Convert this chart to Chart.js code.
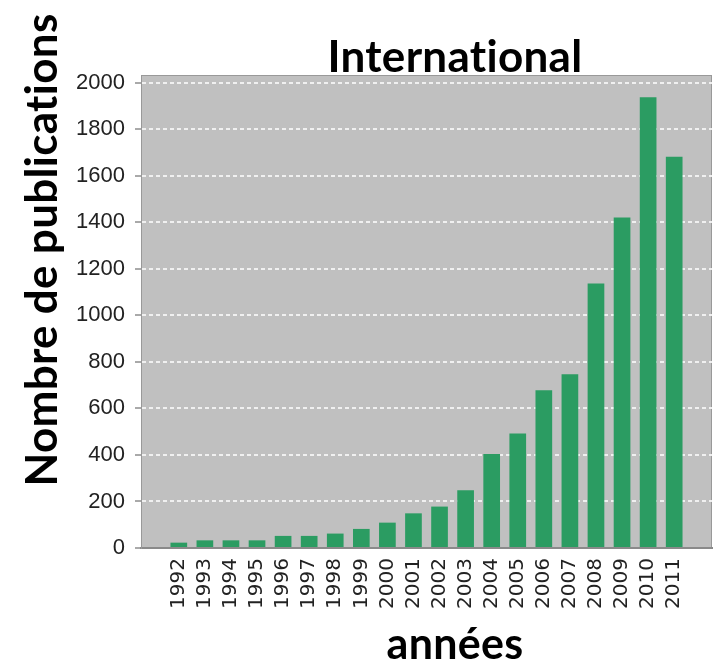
<!DOCTYPE html>
<html lang="fr">
<head>
<meta charset="utf-8">
<title>International - Nombre de publications</title>
<script src="https://cdn.jsdelivr.net/npm/chart.js@4.4.1/dist/chart.umd.min.js"></script>
<style>
    html, body { margin: 0; padding: 0; background: #ffffff; }
    canvas { display: block; }
</style>
</head>
<body>
<canvas id="pubChart" width="714" height="664"></canvas>
<script>
// Publication counts per year
const years = [1992, 1993, 1994, 1995, 1996, 1997, 1998, 1999, 2000, 2001,
               2002, 2003, 2004, 2005, 2006, 2007, 2008, 2009, 2010, 2011];
const publications = [23, 33, 33, 33, 52, 52, 62, 82, 109, 149,
                      178, 248, 404, 492, 678, 747, 1137, 1421, 1937, 1682];
const yTicks = [0, 200, 400, 600, 800, 1000, 1200, 1400, 1600, 1800, 2000];

const chartTitle = 'International';
const xTitle = 'années';
const yTitle = 'Nombre de publications';

// Grey plot background with a thin frame
const plotBackground = {
    id: 'plotBackground',
    beforeDraw(chart) {
        const { ctx, chartArea: a } = chart;
        ctx.save();
        ctx.fillStyle = '#ffffff';
        ctx.fillRect(0, 0, chart.width, chart.height);
        ctx.fillStyle = '#c0c0c0';
        ctx.fillRect(a.left, a.top, a.right - a.left, a.bottom - a.top);
        ctx.strokeStyle = '#999999';
        ctx.lineWidth = 1;
        ctx.strokeRect(a.left + 0.5, a.top + 0.5, a.right - a.left - 1, a.bottom - a.top - 1);
        ctx.restore();
    }
};

// Big bold titles (top, bottom and left)
const titles = {
    id: 'titles',
    afterDraw(chart) {
        const ctx = chart.ctx;
        ctx.save();
        ctx.fillStyle = '#000000';
        ctx.textAlign = 'center';
        ctx.textBaseline = 'alphabetic';
        // a tiny spacing keeps the "ti" pairs from turning into ligatures
        ctx.letterSpacing = '0.3px';

        ctx.font = 'bold 44px Lato';
        ctx.fillText(chartTitle, 455, 72);

        ctx.font = 'bold 43px Lato';
        ctx.fillText(xTitle, 455, 659);

        ctx.translate(57, 250);
        ctx.rotate(-Math.PI / 2);
        ctx.font = 'bold 44px Lato';
        ctx.fillText(yTitle, 0, 0);
        ctx.restore();
    }
};

const ctx = document.getElementById('pubChart').getContext('2d');
const pubChart = new Chart(ctx, {
    type: 'bar',
    data: {
        datasets: [{
            label: 'Publications',
            data: years.map((y, i) => ({ x: y, y: publications[i] })),
            backgroundColor: '#2b9c62',
            borderWidth: 0,
            barPercentage: 0.64,
            categoryPercentage: 1
        }]
    },
    options: {
        responsive: false,
        animation: false,
        layout: {
            padding: { top: 75, right: 2, bottom: 0, left: 0 }
        },
        plugins: {
            legend: { display: false },
            tooltip: { enabled: false },
            title: { display: false }
        },
        scales: {
            x: {
                type: 'linear',
                offset: false,
                min: 1990.55,
                max: 2012.45,
                afterBuildTicks: scale => {
                    scale.ticks = years.map(v => ({ value: v }));
                },
                afterFit: scale => {
                    scale.height = 116;
                },
                grid: { display: false, drawTicks: false },
                border: { display: true, color: '#8a8a8a', width: 2 },
                ticks: {
                    autoSkip: false,
                    minRotation: 90,
                    maxRotation: 90,
                    padding: 10,
                    color: '#222222',
                    font: { family: 'DejaVu Sans', size: 20 },
                    callback: value => String(value)
                }
            },
            y: {
                min: 0,
                max: 2033,
                afterBuildTicks: scale => {
                    scale.ticks = yTicks.map(v => ({ value: v }));
                },
                afterFit: scale => {
                    scale.width = 141;
                },
                grid: {
                    color: 'rgba(245, 245, 245, 0.9)',
                    lineWidth: 2,
                    tickColor: '#555555',
                    tickLength: 6,
                    tickWidth: 1,
                    tickBorderDash: []
                },
                border: { display: true, color: '#999999', width: 1, dash: [4, 3] },
                ticks: {
                    padding: 10,
                    color: '#222222',
                    font: { family: 'Liberation Sans', size: 22 },
                    callback: value => String(value)
                }
            }
        }
    },
    plugins: [plotBackground, titles]
});
</script>
</body>
</html>
